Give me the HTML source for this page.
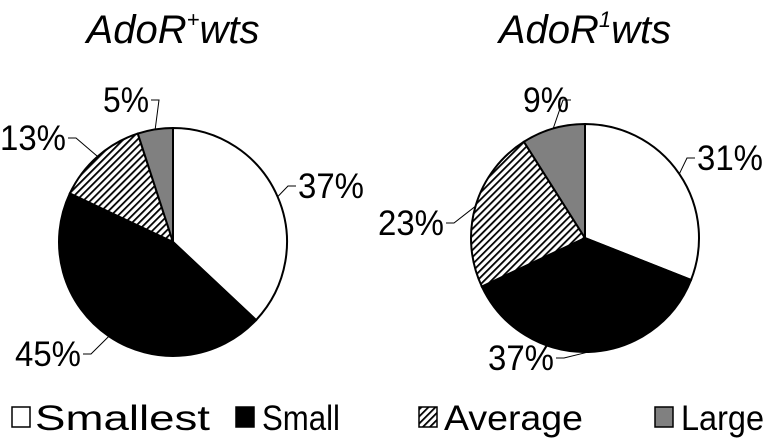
<!DOCTYPE html>
<html><head><meta charset="utf-8">
<style>
body{margin:0;background:#fff;}
svg{display:block;font-family:"Liberation Sans",sans-serif;}
</style></head>
<body>
<svg id="chart" width="767" height="441" viewBox="0 0 767 441">
<defs>
<pattern id="hatch" patternUnits="userSpaceOnUse" width="5" height="5" patternTransform="rotate(45)">
<rect width="5" height="5" fill="#fff"/><rect width="1.8" height="5" fill="#000"/>
</pattern>
</defs>
<text x="173" y="43" font-size="40" font-style="italic" text-anchor="middle">AdoR<tspan font-size="22" dy="-16">+</tspan><tspan dy="16">wts</tspan></text>
<text x="585" y="43" font-size="40" font-style="italic" text-anchor="middle">AdoR<tspan font-size="22" dy="-16">1</tspan><tspan dy="16">wts</tspan></text>
<g id="pies"></g>
<g font-size="35">
<rect x="12" y="407" width="18" height="20" fill="#fff" stroke="#000" stroke-width="1.5"/>
<text x="35" y="430" textLength="175" lengthAdjust="spacingAndGlyphs">Smallest</text>
<rect x="236" y="407" width="18" height="20" fill="#000" stroke="#000" stroke-width="1.5"/>
<text x="262" y="430" textLength="78" lengthAdjust="spacingAndGlyphs">Small</text>
<rect x="419" y="407" width="18" height="20" fill="url(#hatch)" stroke="#000" stroke-width="1.5"/>
<text x="444" y="430" textLength="139" lengthAdjust="spacingAndGlyphs">Average</text>
<rect x="655" y="407" width="18" height="20" fill="#808080" stroke="#000" stroke-width="1.5"/>
<text x="681" y="430" textLength="83" lengthAdjust="spacingAndGlyphs">Large</text>
</g>
</svg>
<script>
const categories = ["Smallest","Small","Average","Large"];
const valuesLeft = [37,45,13,5];
const valuesRight = [31,37,23,9];
const fills = ["#fff","#000","url(#hatch)","#808080"];
const pies = [
  {name:"left", vals:valuesLeft, cx:173, cy:242, r:114,
   labels:[[298,198],[15,366],[0,150],[103,112]]},
  {name:"right", vals:valuesRight, cx:585, cy:238, r:114,
   labels:[[697,170],[488,370],[378,235],[523,112]]}
];
const NS="http://www.w3.org/2000/svg";
const g=document.getElementById('pies');
function pt(cx,cy,r,a){return [cx+r*Math.sin(a), cy-r*Math.cos(a)];}
pies.forEach(p=>{
  const total=p.vals.reduce((a,b)=>a+b,0);
  let a0=0;
  p.vals.forEach((v,i)=>{
    const a1=a0+v/total*2*Math.PI;
    const s=pt(p.cx,p.cy,p.r,a0), e=pt(p.cx,p.cy,p.r,a1);
    const path=document.createElementNS(NS,'path');
    path.setAttribute('d',`M${p.cx},${p.cy}L${s[0]},${s[1]}A${p.r},${p.r} 0 ${a1-a0>Math.PI?1:0} 1 ${e[0]},${e[1]}Z`);
    path.setAttribute('fill',fills[i]);
    path.setAttribute('stroke','#000');
    path.setAttribute('stroke-width','2');
    
    
    g.appendChild(path);
    const am=(a0+a1)/2;
    const m=pt(p.cx,p.cy,p.r,am);
    const L=p.labels[i];
    const w=v>=10?66:46;
    const t=document.createElementNS(NS,'text');
    t.textContent=v+'%';
    t.setAttribute('x',L[0]); t.setAttribute('y',L[1]);
    t.setAttribute('font-size','35');
    t.setAttribute('textLength',w);
    t.setAttribute('lengthAdjust','spacingAndGlyphs');
    
    
    g.appendChild(t);
    let ex, ey=L[1]-12;
    if(m[0]>p.cx+5){ex=L[0]-2;} else {ex=L[0]+w+2;}
    const mid=[m[0]<ex? ex-8: ex+8, ey];
    const ln=document.createElementNS(NS,'polyline');
    ln.setAttribute('points',`${m[0]},${m[1]} ${mid[0]},${mid[1]} ${ex},${ey}`);
    ln.setAttribute('fill','none');ln.setAttribute('stroke','#000');ln.setAttribute('stroke-width','1');
    
    
    g.appendChild(ln);
    a0=a1;
  });
});
</script>
</body></html>
